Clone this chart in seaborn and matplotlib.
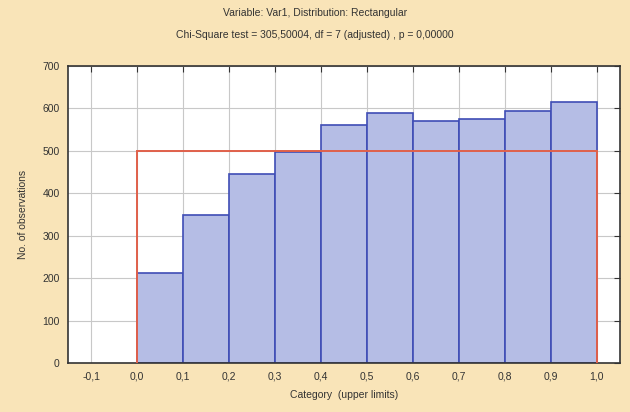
import numpy as np
import pandas as pd
import matplotlib
matplotlib.use("Agg")
import matplotlib.pyplot as plt
from matplotlib.ticker import FuncFormatter, MultipleLocator
import seaborn as sns

# Data
bin_edges = [0.0, 0.1, 0.2, 0.3, 0.4, 0.5, 0.6, 0.7, 0.8, 0.9, 1.0]
observed = [213, 348, 445, 497, 560, 590, 570, 575, 593, 615]
expected = [500, 500, 500, 500, 500, 500, 500, 500, 500, 500]
x_ticks = [-0.1, 0.0, 0.1, 0.2, 0.3, 0.4, 0.5, 0.6, 0.7, 0.8, 0.9, 1.0]
y_ticks = [0, 100, 200, 300, 400, 500, 600, 700]
title1 = "Variable: Var1, Distribution: Rectangular"
title2 = "Chi-Square test = 305,50004, df = 7 (adjusted) , p = 0,00000"

sns.set_style("white")
plt.rcParams['font.family'] = ['Liberation Sans', 'DejaVu Sans']

bg = "#F9E4B8"
fig = plt.figure(figsize=(6.3, 4.12), dpi=100, facecolor=bg)
ax = fig.add_axes([0.108, 0.119, 0.876, 0.721])
ax.set_facecolor("white")

centers = [(bin_edges[i] + bin_edges[i + 1]) / 2 for i in range(len(observed))]
df = pd.DataFrame({"x": centers, "w": observed})
sns.histplot(data=df, x="x", weights="w", bins=bin_edges, ax=ax,
             color="#B5BDE5", edgecolor="#3F4DB5", linewidth=1.2, alpha=1.0, zorder=2)

ax.stairs(expected, bin_edges, color="#E0604A", linewidth=1.4, zorder=3, baseline=0)

ax.set_xlim(-0.15, 1.05)
ax.set_ylim(0, 700)
ax.set_xticks(x_ticks)
ax.set_yticks(y_ticks)
ax.xaxis.set_major_formatter(FuncFormatter(lambda v, p: f"{v:.1f}".replace(".", ",").replace("-0,0", "0,0")))
ax.grid(True, color="#C8C8C8", linewidth=0.8, zorder=0)
ax.set_axisbelow(True)
ax.tick_params(axis="both", which="both", direction="in", length=4, width=0.8,
               top=True, right=True, labelsize=7.5, colors="#333333", pad=6)
for s in ax.spines.values():
    s.set_color("#333333")
    s.set_linewidth(1.2)

ax.set_xlabel("Category  (upper limits)", fontsize=7.5, color="#333333", labelpad=6)
ax.set_ylabel("No. of observations", fontsize=7.5, color="#333333", labelpad=10)

fig.text(0.5, 1 - 13 / 412, title1, ha="center", va="center", fontsize=7.5, color="#333333")
fig.text(0.5, 1 - 35 / 412, title2, ha="center", va="center", fontsize=7.5, color="#333333")

fig.savefig("out.png", dpi=100, facecolor=bg)
